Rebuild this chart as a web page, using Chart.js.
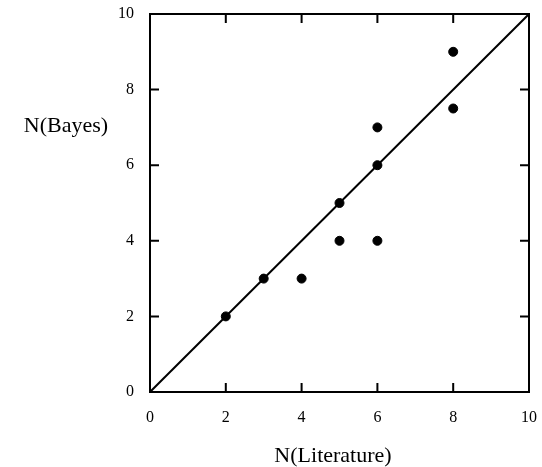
<!DOCTYPE html>
<html>
<head>
<meta charset="utf-8">
<script src="https://cdn.jsdelivr.net/npm/chart.js@4"></script>
<style>
  html, body { margin: 0; padding: 0; background: #fff; }
  #wrap { width: 542px; height: 467px; }
</style>
</head>
<body>
<div id="wrap"><canvas id="myChart"></canvas></div>
<script>
// values
const literature = [2, 3, 4, 5, 5, 6, 6, 6, 8, 8];
const bayes      = [2, 3, 3, 5, 4, 7, 6, 4, 9, 7.5];
const axisTicks = [0, 2, 4, 6, 8, 10];
const xTitle = 'N(Literature)';
const yTitle = 'N(Bayes)';

const points = literature.map((x, i) => ({ x: x, y: bayes[i] }));

// frame with inward ticks on all four sides + the two axis titles
const framePlugin = {
    id: 'frame',
    afterDraw(chart) {
        const c = chart.ctx;
        const a = chart.chartArea;
        const xs = chart.scales.x, ys = chart.scales.y;
        c.save();
        c.strokeStyle = '#000';
        c.lineWidth = 2;
        c.strokeRect(a.left, a.top, a.right - a.left, a.bottom - a.top);
        const len = 9;
        c.beginPath();
        axisTicks.slice(1, -1).forEach(v => {
            const px = xs.getPixelForValue(v);
            c.moveTo(px, a.bottom); c.lineTo(px, a.bottom - len);
            c.moveTo(px, a.top); c.lineTo(px, a.top + len);
            const py = ys.getPixelForValue(v);
            c.moveTo(a.left, py); c.lineTo(a.left + len, py);
            c.moveTo(a.right, py); c.lineTo(a.right - len, py);
        });
        c.stroke();
        c.fillStyle = '#000';
        c.font = '22px "Liberation Serif"';
        c.textBaseline = 'middle';
        c.textAlign = 'center';
        c.fillText(xTitle, 333, 456);
        c.fillText(yTitle, 66, 126);
        c.restore();
    }
};

function noOverflow(scale) {
    scale.paddingTop = 0;
    scale.paddingBottom = 0;
    scale.paddingLeft = 0;
    scale.paddingRight = 0;
}

const ctx = document.getElementById('myChart').getContext('2d');

const myChart = new Chart(ctx, {
    type: 'scatter',
    data: {
        datasets: [{
            label: 'diagonal',
            type: 'line',
            data: [{ x: 0, y: 0 }, { x: 10, y: 10 }],
            borderColor: '#000',
            borderWidth: 2,
            pointRadius: 0,
            fill: false
        }, {
            label: 'N',
            data: points,
            backgroundColor: '#000',
            borderColor: '#000',
            borderWidth: 1,
            pointRadius: 4.5,
            pointHoverRadius: 4.5
        }]
    },
    options: {
        responsive: true,
        maintainAspectRatio: false,
        animation: false,
        layout: { padding: { left: 0, right: 13, top: 14, bottom: 0 } },
        plugins: {
            legend: { display: false },
            tooltip: { enabled: false }
        },
        scales: {
            x: {
                type: 'linear',
                min: 0,
                max: 10,
                afterFit(scale) { scale.height = 75; noOverflow(scale); },
                afterBuildTicks(scale) { scale.ticks = axisTicks.map(v => ({ value: v })); },
                grid: { display: false, drawTicks: false },
                border: { display: false },
                ticks: {
                    padding: 16,
                    color: '#000',
                    font: { family: '"Liberation Serif"', size: 16 }
                }
            },
            y: {
                type: 'linear',
                min: 0,
                max: 10,
                afterFit(scale) { scale.width = 150; noOverflow(scale); },
                afterBuildTicks(scale) { scale.ticks = axisTicks.map(v => ({ value: v })); },
                grid: { display: false, drawTicks: false },
                border: { display: false },
                ticks: {
                    padding: 16,
                    color: '#000',
                    font: { family: '"Liberation Serif"', size: 16 }
                }
            }
        }
    },
    plugins: [framePlugin]
});
</script>
</body>
</html>
